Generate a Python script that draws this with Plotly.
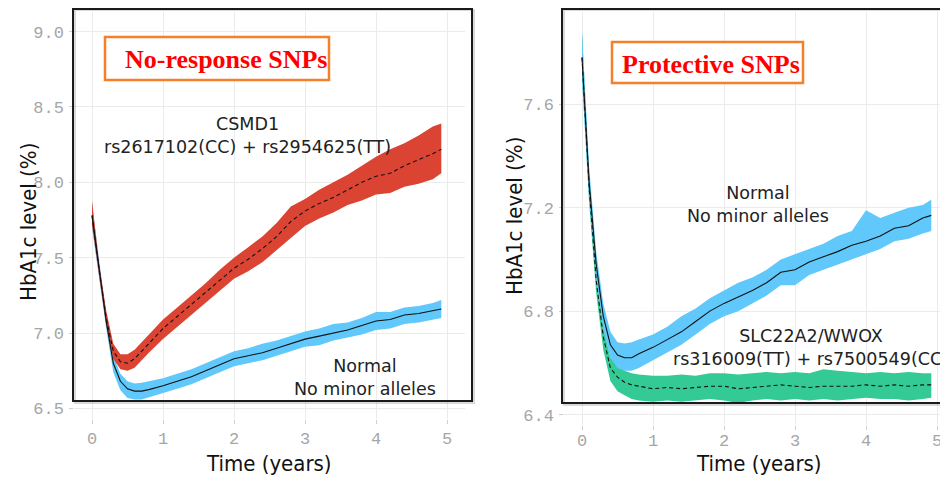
import plotly.graph_objects as go

# ---------------- data ----------------
time = [0, 0.1, 0.2, 0.3, 0.4, 0.5, 0.6, 0.7, 0.8, 1.0, 1.2, 1.4, 1.6, 1.8, 2.0,
        2.2, 2.4, 2.6, 2.8, 3.0, 3.2, 3.4, 3.6, 3.8, 4.0, 4.2, 4.4, 4.6, 4.8, 4.92]

# Left panel: Normal (blue)
l_norm_mean = [7.78, 7.42, 7.08, 6.80, 6.68, 6.63, 6.615, 6.615, 6.625, 6.65, 6.68, 6.71, 6.75, 6.79, 6.83,
               6.85, 6.87, 6.90, 6.93, 6.96, 6.98, 7.00, 7.02, 7.05, 7.08, 7.09, 7.12, 7.13, 7.15, 7.16]
l_norm_up = [7.86, 7.47, 7.12, 6.85, 6.73, 6.68, 6.665, 6.67, 6.68, 6.70, 6.73, 6.76, 6.80, 6.84, 6.88,
             6.90, 6.93, 6.95, 6.98, 7.01, 7.03, 7.06, 7.07, 7.10, 7.14, 7.14, 7.17, 7.18, 7.20, 7.22]
l_norm_lo = [7.70, 7.38, 7.03, 6.74, 6.62, 6.57, 6.56, 6.56, 6.57, 6.60, 6.63, 6.66, 6.70, 6.74, 6.78,
             6.80, 6.82, 6.85, 6.88, 6.91, 6.92, 6.95, 6.97, 6.99, 7.02, 7.03, 7.06, 7.07, 7.09, 7.10]

# Left panel: CSMD1 (red)
l_snp_mean = [7.78, 7.42, 7.10, 6.88, 6.81, 6.80, 6.83, 6.88, 6.93, 7.03, 7.11, 7.19, 7.27, 7.35, 7.43,
              7.49, 7.56, 7.64, 7.74, 7.81, 7.86, 7.90, 7.95, 8.00, 8.04, 8.06, 8.11, 8.15, 8.19, 8.22]
l_snp_up = [7.88, 7.46, 7.15, 6.93, 6.86, 6.86, 6.89, 6.94, 6.99, 7.09, 7.17, 7.25, 7.33, 7.42, 7.50,
            7.57, 7.64, 7.73, 7.84, 7.89, 7.95, 8.00, 8.05, 8.11, 8.17, 8.22, 8.26, 8.31, 8.37, 8.39]
l_snp_lo = [7.72, 7.38, 7.05, 6.83, 6.76, 6.75, 6.77, 6.82, 6.87, 6.96, 7.04, 7.12, 7.20, 7.28, 7.36,
            7.41, 7.47, 7.55, 7.63, 7.71, 7.76, 7.80, 7.85, 7.88, 7.92, 7.93, 7.97, 7.99, 8.02, 8.06]

# Right panel: Normal (blue)
r_norm_mean = [7.78, 7.30, 6.98, 6.78, 6.67, 6.63, 6.62, 6.62, 6.635, 6.66, 6.69, 6.72, 6.76, 6.80, 6.83,
               6.855, 6.88, 6.91, 6.95, 6.96, 6.99, 7.01, 7.03, 7.055, 7.07, 7.09, 7.12, 7.13, 7.16, 7.17]
r_norm_up = [7.88, 7.36, 7.03, 6.83, 6.72, 6.68, 6.675, 6.68, 6.69, 6.71, 6.74, 6.78, 6.81, 6.85, 6.88,
             6.91, 6.93, 6.96, 7.00, 7.02, 7.04, 7.06, 7.09, 7.11, 7.19, 7.16, 7.18, 7.20, 7.21, 7.23]
r_norm_lo = [7.70, 7.24, 6.93, 6.73, 6.62, 6.58, 6.57, 6.57, 6.58, 6.61, 6.64, 6.67, 6.71, 6.75, 6.78,
             6.80, 6.83, 6.86, 6.90, 6.90, 6.94, 6.96, 6.98, 7.00, 7.02, 7.04, 7.07, 7.08, 7.10, 7.11]

# Right panel: SLC22A2/WWOX (green)
r_snp_mean = [7.78, 7.28, 6.92, 6.70, 6.58, 6.545, 6.525, 6.515, 6.51, 6.50, 6.505, 6.50, 6.505, 6.51, 6.51,
              6.50, 6.505, 6.51, 6.515, 6.51, 6.505, 6.51, 6.51, 6.51, 6.515, 6.51, 6.515, 6.51, 6.515, 6.515]
r_snp_up = [7.88, 7.33, 6.96, 6.74, 6.62, 6.59, 6.57, 6.56, 6.555, 6.55, 6.55, 6.555, 6.55, 6.56, 6.56,
            6.555, 6.56, 6.565, 6.56, 6.565, 6.56, 6.575, 6.57, 6.565, 6.56, 6.565, 6.56, 6.565, 6.56, 6.56]
r_snp_lo = [7.70, 7.22, 6.87, 6.65, 6.53, 6.49, 6.475, 6.46, 6.455, 6.45, 6.455, 6.45, 6.455, 6.46, 6.455,
            6.445, 6.455, 6.46, 6.455, 6.46, 6.455, 6.46, 6.455, 6.46, 6.465, 6.46, 6.46, 6.455, 6.46, 6.465]

x_ticks = [0, 1, 2, 3, 4, 5]
l_y_ticks = [6.5, 7.0, 7.5, 8.0, 8.5, 9.0]
l_y_ticktext = ["6.5", "7.0", "7.5", "8.0", "8.5", "9.0"]
r_y_ticks = [6.4, 6.8, 7.2, 7.6]
r_y_ticktext = ["6.4", "6.8", "7.2", "7.6"]

# ---------------- styling ----------------
# the page body has an 8px margin, so the figure is 940x472 and placed at (8, 8)
OFF = 8
W, H = 948 - OFF, 480 - OFF
RED = "rgb(219,68,50)"
BLUE = "rgb(96,200,250)"
GREEN = "rgb(52,202,150)"


def px(x):
    return (x - OFF) / W


def py(y):
    return 1 - (y - OFF) / H


fig = go.Figure()


def band(xa, ya, lo, up, color):
    fig.add_trace(go.Scatter(x=time + time[::-1], y=up + lo[::-1], fill="toself",
                             fillcolor=color, line=dict(width=0), mode="lines",
                             hoverinfo="skip", showlegend=False, xaxis=xa, yaxis=ya))


def mean_line(xa, ya, mean, dash):
    fig.add_trace(go.Scatter(x=time, y=mean, mode="lines",
                             line=dict(color="#111", width=1.1, dash=dash),
                             showlegend=False, xaxis=xa, yaxis=ya))


band("x", "y", l_norm_lo, l_norm_up, BLUE)
band("x", "y", l_snp_lo, l_snp_up, RED)
mean_line("x", "y", l_norm_mean, "solid")
mean_line("x", "y", l_snp_mean, "4px,3px")

band("x2", "y2", r_snp_lo, r_snp_up, GREEN)
band("x2", "y2", r_norm_lo, r_norm_up, BLUE)
mean_line("x2", "y2", r_norm_mean, "solid")
mean_line("x2", "y2", r_snp_mean, "4px,3px")

tickfont = dict(family="Liberation Mono, DejaVu Sans Mono, monospace", size=17, color="#a6a6a6")
common_axis = dict(showgrid=True, gridcolor="#ebebeb", gridwidth=1, zeroline=False,
                   showline=False, ticks="outside", ticklen=4, tickcolor="#cfcfcf",
                   tickfont=tickfont, automargin=False)

fig.update_layout(
    width=W, height=H, margin=dict(l=0, r=0, t=0, b=0, autoexpand=False),
    paper_bgcolor="white", plot_bgcolor="white",
    xaxis=dict(domain=[px(74.25), px(464.75)], range=[-0.25, 5.25], tickvals=x_ticks,
               ticklabelstandoff=0, anchor="y", **common_axis),
    yaxis=dict(domain=[py(419), py(12)], range=[6.43, 9.13], tickvals=l_y_ticks,
               ticktext=l_y_ticktext, anchor="x", ticklabelstandoff=2, **common_axis),
    xaxis2=dict(domain=[px(564.25), 1.0], range=[-0.25, 5.155], tickvals=x_ticks,
                ticklabelstandoff=-4, anchor="y2", **common_axis),
    yaxis2=dict(domain=[py(425), py(12)], range=[6.36, 7.956], tickvals=r_y_ticks,
                ticktext=r_y_ticktext, anchor="x2", ticklabelstandoff=2, **common_axis),
)

shapes = []
# black framing boxes (with faint shadow)
for (x0, y0, x1, y1) in [(73, 8, 472, 401), (562, 8, 960, 403)]:
    shapes.append(dict(type="rect", xref="paper", yref="paper",
                       x0=px(x0 + 2), x1=px(x1 + 2), y0=py(y1 + 2), y1=py(y0 + 2),
                       line=dict(color="rgba(0,0,0,0.15)", width=2), layer="above"))
    shapes.append(dict(type="rect", xref="paper", yref="paper",
                       x0=px(x0), x1=px(x1), y0=py(y1), y1=py(y0 + 1),
                       line=dict(color="#1a1a1a", width=2), layer="above"))
# orange title boxes
for (x0, y0, x1, y1) in [(105, 37, 329, 80), (612, 42, 803, 83)]:
    shapes.append(dict(type="rect", xref="paper", yref="paper",
                       x0=px(x0), x1=px(x1), y0=py(y1), y1=py(y0),
                       fillcolor="white", line=dict(color="#F5802A", width=2.5), layer="above"))
fig.update_layout(shapes=shapes)

label_font = dict(family="DejaVu Sans, Verdana, sans-serif", size=17.5, color="#222")
title_font = dict(family="DejaVu Sans Condensed, DejaVu Sans, sans-serif", size=22, color="#111")
box_font = dict(family="Liberation Serif, Times New Roman, serif", size=26, color="#FF0000")

annots = [
    # panel titles
    dict(x=px(226), y=py(59), text="<b>No-response SNPs</b>", font=box_font),
    dict(x=px(711), y=py(64), text="<b>Protective SNPs</b>", font=box_font),
    # curve labels
    dict(x=px(248), y=py(135), text="CSMD1<br>rs2617102(CC) + rs2954625(TT)", font=label_font),
    dict(x=px(365), y=py(377), text="Normal<br>No minor alleles", font=label_font),
    dict(x=px(758), y=py(204), text="Normal<br>No minor alleles", font=label_font),
    dict(x=px(811), y=py(347), text="SLC22A2/WWOX<br>rs316009(TT) + rs7500549(CC)", font=label_font),
    # axis titles
    dict(x=px(269), y=py(463), text="Time (years)", font=title_font),
    dict(x=px(759), y=py(463), text="Time (years)", font=title_font),
    dict(x=px(28), y=py(222), text="HbA1c level (%)", font=title_font, textangle=-90),
    dict(x=px(515), y=py(216), text="HbA1c level (%)", font=title_font, textangle=-90),
]
for a in annots:
    a.update(xref="paper", yref="paper", showarrow=False, xanchor="center", yanchor="middle")
fig.update_layout(annotations=annots)

fig.write_html("out.html")
